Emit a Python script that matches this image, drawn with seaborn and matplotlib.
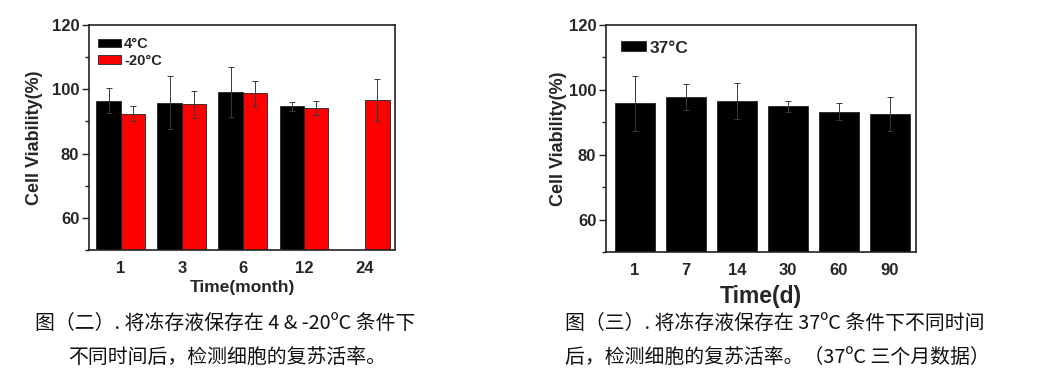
import numpy as np
import pandas as pd
import matplotlib
matplotlib.use("Agg")
import matplotlib.pyplot as plt
import seaborn as sns
from matplotlib.ticker import MultipleLocator
from matplotlib.container import BarContainer

# ---- data ----
months = ["1", "3", "6", "12", "24"]
cold_4 = [96.4, 95.8, 99.1, 94.8, np.nan]
cold_4_err = [3.9, 8.3, 7.8, 1.4, np.nan]
frozen_20 = [92.4, 95.3, 98.7, 94.2, 96.6]
frozen_20_err = [2.4, 4.2, 3.9, 2.2, 6.5]
series_names = ["4°C", "-20°C"]

days = ["1", "7", "14", "30", "60", "90"]
warm_37 = [95.8, 97.9, 96.6, 94.9, 93.3, 92.6]
warm_37_err = [8.5, 4.0, 5.6, 1.8, 2.5, 5.3]
series_37 = "37°C"

caption_left = ["图（二）. 将冻存液保存在 4 & -20ºC 条件下", "不同时间后，检测细胞的复苏活率。"]
caption_right = ["图（三）. 将冻存液保存在 37ºC 条件下不同时间", "后，检测细胞的复苏活率。（37ºC 三个月数据）"]

sns.set_theme(style="white")
plt.rcParams["font.family"] = ["Liberation Sans", "DejaVu Sans"]

fig = plt.figure(figsize=(10.44, 3.78), dpi=100)
W, H = 1044, 378
axL = fig.add_axes([89 / W, (H - 250) / H, (395 - 89) / W, (250 - 25) / H])
axR = fig.add_axes([606 / W, (H - 252) / H, (916 - 606) / W, (252 - 25) / H])

df_left = pd.DataFrame({
    "Time": months * 2,
    "Viability": cold_4 + frozen_20,
    "err": cold_4_err + frozen_20_err,
    "Series": [series_names[0]] * len(months) + [series_names[1]] * len(months),
})
df_right = pd.DataFrame({"Time": days, "Viability": warm_37, "err": warm_37_err,
                         "Series": [series_37] * len(days)})

sns.barplot(data=df_left, x="Time", y="Viability", hue="Series", order=months,
            hue_order=series_names, palette=["#000000", "#ff0000"], errorbar=None,
            width=0.8, saturation=1, edgecolor="#222222", linewidth=0.6, ax=axL)
sns.barplot(data=df_right, x="Time", y="Viability", hue="Series", order=days,
            palette=["#000000"], errorbar=None, width=0.8, saturation=1,
            edgecolor="#222222", linewidth=0.6, ax=axR, legend=True)

def add_err(ax, df, hue_order, cats):
    bars = [c for c in ax.containers if isinstance(c, BarContainer)]
    for ci, cont in enumerate(bars):
        name = hue_order[ci]
        sub = df[df["Series"] == name].set_index("Time").reindex(cats)
        for bar, v, e in zip(cont, sub["Viability"], sub["err"]):
            if np.isnan(v):
                continue
            xc = bar.get_x() + bar.get_width() / 2
            ax.errorbar(xc, v, yerr=e, fmt="none", ecolor="#3a3a3a",
                        elinewidth=0.7, capsize=2.5, capthick=0.7, zorder=3)

add_err(axL, df_left, series_names, months)
add_err(axR, df_right, [series_37], days)

for ax in (axL, axR):
    ax.set_ylim(50, 120)
    ax.yaxis.set_minor_locator(MultipleLocator(10))
    ax.set_yticks([60, 80, 100, 120])
    ax.tick_params(axis="y", which="major", direction="out", length=5, width=1,
                   left=True, labelsize=12, pad=2, color="#222222")
    ax.tick_params(axis="y", which="minor", direction="out", length=3, width=1,
                   left=True, color="#222222")
    ax.tick_params(axis="x", length=0, labelsize=12, pad=8)
    for lab in ax.get_xticklabels() + ax.get_yticklabels():
        lab.set_fontweight("bold")
    for s in ax.spines.values():
        s.set_visible(True)
        s.set_color("#222222")
        s.set_linewidth(1.2)

axL.set_ylabel("Cell Viability(%)", fontsize=13, fontweight="bold", labelpad=6)
axR.set_ylabel("Cell Viability(%)", fontsize=13, fontweight="bold", labelpad=1)

axL.set_xlim(-0.52, 4.49)
axR.set_xlim(-0.57, 5.51)
axL.set_xlabel("Time(month)", fontsize=12.5, fontweight="bold", labelpad=3)
axR.set_xlabel("Time(d)", fontsize=16.5, fontweight="bold", labelpad=5)

legL = axL.legend(loc="upper left", bbox_to_anchor=(0.0, 0.985), frameon=False,
                  handlelength=1.6, handleheight=0.55, handletextpad=0.2,
                  labelspacing=0.2, borderaxespad=0.2,
                  prop={"weight": "bold", "size": 10.5})
legR = axR.legend(loc="upper left", bbox_to_anchor=(0.01, 0.985), frameon=False,
                  handlelength=1.45, handleheight=0.5, handletextpad=0.2,
                  borderaxespad=0.3, prop={"weight": "bold", "size": 12.5})

cap_font = ["Noto Sans CJK SC", "DejaVu Sans"]
fig.text(35 / W, 1 - 323 / H, caption_left[0], family=cap_font, fontsize=14.3,
         va="center", ha="left", color="#111111")
fig.text(68 / W, 1 - 357 / H, caption_left[1], family=cap_font, fontsize=14.3,
         va="center", ha="left", color="#111111")
fig.text(565 / W, 1 - 323 / H, caption_right[0], family=cap_font, fontsize=14.3,
         va="center", ha="left", color="#111111")
fig.text(565 / W, 1 - 357 / H, caption_right[1], family=cap_font, fontsize=14.3,
         va="center", ha="left", color="#111111")

fig.savefig("out.png", dpi=100)
